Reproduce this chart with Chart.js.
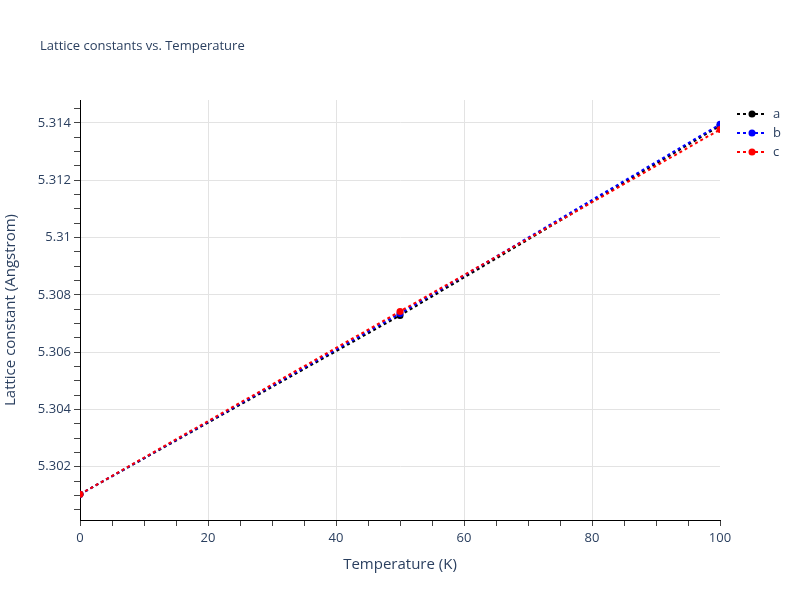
<!DOCTYPE html>
<html>
<head>
<meta charset="utf-8">
<script src="https://cdn.jsdelivr.net/npm/chart.js@4"></script>
<style>
  html, body { margin: 0; padding: 0; background: #fff; }
  #wrap { width: 800px; height: 600px; }
</style>
</head>
<body>
<div id="wrap"><canvas id="c" width="800" height="600"></canvas></div>
<script>
// ---- data ----
const chartTitle = 'Lattice constants vs. Temperature';
const xTitle = 'Temperature (K)';
const yTitle = 'Lattice constant (Angstrom)';
const temperatures = [0, 50, 100];
const seriesNames = ['a', 'b', 'c'];
const aValues = [5.30104, 5.30728, 5.31390];
const bValues = [5.30104, 5.30735, 5.31395];
const cValues = [5.30104, 5.30742, 5.31377];
const seriesColors = ['#000000', '#0000ff', '#ff0000'];
const xMajorTicks = [0, 20, 40, 60, 80, 100];
const xMinorStep = 5;
const yMajorTicks = [5.302, 5.304, 5.306, 5.308, 5.31, 5.312, 5.314];
const yMinorStep = 0.0005;
const xRange = [0, 100];
const yRange = [5.30014, 5.31480];

const FONT = "'Open Sans', 'Noto Sans', sans-serif";
const TEXT = '#2a3f5f';

function isMajor(v, majors) {
  return majors.some(m => Math.abs(m - v) < 1e-9);
}

const values = [aValues, bValues, cValues];
const datasets = seriesNames.map((name, i) => ({
  label: name,
  data: temperatures.map((t, j) => ({ x: t, y: values[i][j] })),
  borderColor: seriesColors[i],
  backgroundColor: seriesColors[i],
  borderWidth: 2,
  borderDash: [3, 3],
  pointRadius: 3.5,
  pointBorderWidth: 0,
  pointHoverRadius: 3.5,
  tension: 0,
  fill: false,
  order: seriesNames.length - i
}));

const overlay = {
  id: 'overlay',
  afterDraw(chart) {
    const ctx = chart.ctx;
    ctx.save();
    ctx.fillStyle = TEXT;
    ctx.font = '13px ' + FONT;
    ctx.textBaseline = 'middle';
    ctx.textAlign = 'left';
    ctx.fillText(chartTitle, 40, 46);
    // legend
    const rowY = [114, 133, 152];
    chart.data.datasets.forEach((ds, i) => {
      const y = rowY[i];
      ctx.strokeStyle = ds.borderColor;
      ctx.lineWidth = 2;
      ctx.setLineDash(ds.borderDash);
      ctx.beginPath();
      ctx.moveTo(737, y);
      ctx.lineTo(767, y);
      ctx.stroke();
      ctx.setLineDash([]);
      ctx.fillStyle = ds.backgroundColor;
      ctx.beginPath();
      ctx.arc(752, y, 3.5, 0, Math.PI * 2);
      ctx.fill();
      ctx.fillStyle = TEXT;
      ctx.font = '13px ' + FONT;
      ctx.fillText(ds.label, 773, y);
    });
    ctx.restore();
  }
};

new Chart(document.getElementById('c'), {
  type: 'line',
  data: { datasets },
  plugins: [overlay],
  options: {
    responsive: false,
    animation: false,
    devicePixelRatio: 1,
    layout: { padding: { top: 100, right: 80, bottom: 0, left: 0 } },
    plugins: { legend: { display: false }, title: { display: false }, tooltip: { enabled: false } },
    scales: {
      x: {
        type: 'linear',
        min: xRange[0], max: xRange[1],
        afterBuildTicks(axis) {
          const t = [];
          for (let v = xRange[0]; v <= xRange[1] + 1e-9; v += xMinorStep) t.push({ value: v });
          axis.ticks = t;
        },
        afterFit(s) { s.height = 80; },
        ticks: {
          autoSkip: false, maxRotation: 0,
          color: TEXT, font: { family: FONT, size: 13 }, padding: 4,
          callback: (v) => isMajor(v, xMajorTicks) ? String(v) : ''
        },
        grid: {
          color: (c) => (c.tick && isMajor(c.tick.value, xMajorTicks) && c.tick.value !== xRange[0] && c.tick.value !== xRange[1]) ? '#e3e3e3' : 'rgba(0,0,0,0)',
          lineWidth: 1,
          tickColor: '#444',
          tickLength: 6,
          drawTicks: true
        },
        border: { display: true, color: '#000', width: 1 },
        title: { display: true, text: xTitle, color: TEXT, font: { family: FONT, size: 15 }, padding: { top: 4, bottom: 26 } }
      },
      y: {
        type: 'linear',
        min: yRange[0], max: yRange[1],
        afterBuildTicks(axis) {
          const t = [];
          const start = Math.ceil(yRange[0] / yMinorStep - 1e-6);
          const end = Math.floor(yRange[1] / yMinorStep + 1e-6);
          for (let k = start; k <= end; k++) t.push({ value: +(k * yMinorStep).toFixed(4) });
          axis.ticks = t;
        },
        afterFit(s) { s.width = 80; },
        ticks: {
          autoSkip: false,
          color: TEXT, font: { family: FONT, size: 13 }, padding: 3,
          callback: (v) => isMajor(v, yMajorTicks) ? String(+v.toFixed(3)) : ''
        },
        grid: {
          color: (c) => (c.tick && isMajor(c.tick.value, yMajorTicks)) ? '#e3e3e3' : 'rgba(0,0,0,0)',
          lineWidth: 1,
          tickColor: '#444',
          tickLength: 6,
          drawTicks: true
        },
        border: { display: true, color: '#000', width: 1 },
        title: { display: true, text: yTitle, color: TEXT, font: { family: FONT, size: 15 }, padding: { top: 2, bottom: 0 } }
      }
    }
  }
});
</script>
</body>
</html>
